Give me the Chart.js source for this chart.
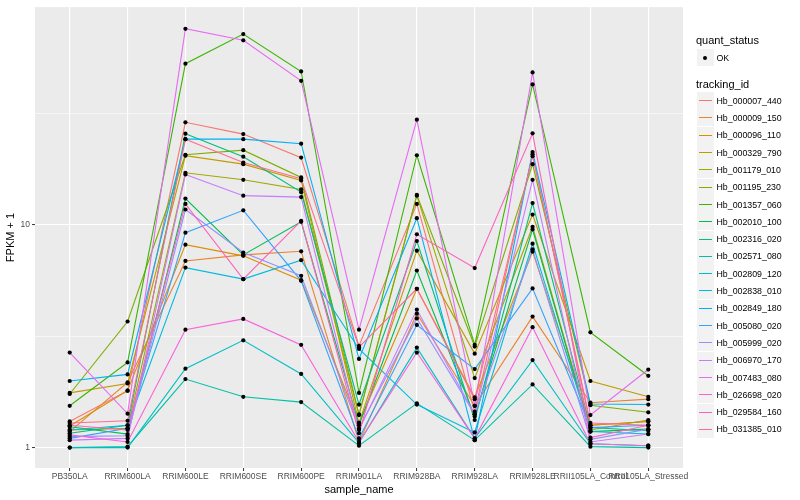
<!DOCTYPE html>
<html>
<head>
<meta charset="utf-8">
<script src="https://cdn.jsdelivr.net/npm/chart.js@4.4.1/dist/chart.umd.min.js"></script>
<style>
  body { margin: 0; background: #FFFFFF; }
  #wrap { position: relative; width: 800px; height: 500px; font-family: 'Liberation Sans', Arial, sans-serif; }
  #legend .title { position: absolute; font-size: 11px; color: #000; line-height: 12px; white-space: nowrap; }
  #legend .key { position: absolute; width: 17px; height: 17px; background: #F2F2F2; }
  #legend .lbl { position: absolute; font-size: 8.8px; color: #000; line-height: 10px; white-space: nowrap; }
</style>
</head>
<body>
<div id="wrap">
  <canvas id="fpkmChart" width="800" height="500"></canvas>
  <div id="legend"></div>
</div>
<script>
// --- dati (FPKM + 1, scala log10) ---
const samples = ["PB350LA", "RRIM600LA", "RRIM600LE", "RRIM600SE", "RRIM600PE", "RRIM901LA",
  "RRIM928BA", "RRIM928LA", "RRIM928LE", "RRII105LA_Control", "RRII105LA_Stressed"];

const trackingIds = ["Hb_000007_440", "Hb_000009_150", "Hb_000096_110", "Hb_000329_790", "Hb_001179_010",
  "Hb_001195_230", "Hb_001357_060", "Hb_002010_100", "Hb_002316_020", "Hb_002571_080",
  "Hb_002809_120", "Hb_002838_010", "Hb_002849_180", "Hb_005080_020", "Hb_005999_020",
  "Hb_006970_170", "Hb_007483_080", "Hb_026698_020", "Hb_029584_160", "Hb_031385_010"];

const Hb_000007_440 = [1.31, 1.80, 28.8, 25.5, 20.0, 2.86, 12.4, 1.45, 20.7, 1.26, 1.31];
const Hb_000009_150 = [1.18, 1.96, 6.88, 7.32, 7.60, 1.06, 3.99, 1.54, 3.87, 1.59, 1.65];
const Hb_000096_110 = [1.25, 1.80, 8.14, 7.25, 5.64, 1.29, 5.16, 1.68, 7.57, 1.26, 1.31];
const Hb_000329_790 = [1.76, 1.94, 20.4, 18.7, 15.8, 1.29, 7.65, 2.64, 11.1, 1.99, 1.69];
const Hb_001179_010 = [1.20, 1.22, 17.1, 15.9, 14.4, 1.40, 13.5, 2.05, 9.79, 1.20, 1.33];
const Hb_001195_230 = [1.74, 3.68, 20.6, 21.6, 16.3, 1.41, 13.6, 2.84, 18.7, 1.55, 1.44];
const Hb_001357_060 = [1.54, 2.41, 52.8, 71.7, 48.7, 1.76, 20.5, 2.89, 42.6, 3.29, 2.10];
const Hb_002010_100 = [1.24, 1.15, 13.1, 7.32, 10.3, 1.26, 6.23, 1.38, 9.53, 1.18, 1.21];
const Hb_002316_020 = [1.16, 1.26, 25.6, 20.2, 14.0, 1.56, 8.45, 1.33, 12.5, 1.23, 1.19];
const Hb_002571_080 = [1.00, 1.01, 2.03, 1.69, 1.60, 1.02, 1.58, 1.08, 1.92, 1.01, 1.00];
const Hb_002809_120 = [1.00, 1.00, 2.26, 3.03, 2.14, 1.05, 2.81, 1.10, 2.47, 1.04, 1.02];
const Hb_002838_010 = [1.20, 1.26, 6.42, 5.70, 6.93, 2.77, 1.56, 1.17, 8.22, 1.18, 1.15];
const Hb_002849_180 = [1.99, 2.13, 24.2, 24.2, 23.1, 2.50, 10.7, 1.08, 21.2, 1.57, 1.56];
const Hb_005080_020 = [1.10, 1.22, 9.21, 11.6, 5.60, 1.10, 3.55, 2.25, 5.18, 1.23, 1.26];
const Hb_005999_020 = [1.12, 1.13, 11.7, 7.50, 5.90, 1.22, 3.80, 1.41, 7.76, 1.09, 1.21];
const Hb_006970_170 = [1.08, 1.10, 16.8, 13.5, 13.3, 1.20, 4.16, 1.41, 15.9, 1.06, 1.15];
const Hb_007483_080 = [2.67, 1.42, 75.7, 67.2, 44.2, 3.38, 29.6, 1.54, 48.2, 1.40, 2.24];
const Hb_026698_020 = [1.14, 1.06, 3.38, 3.78, 2.89, 1.06, 2.67, 1.10, 3.47, 1.04, 1.02];
const Hb_029584_160 = [1.26, 1.20, 12.4, 5.70, 10.4, 1.16, 9.06, 6.39, 25.7, 1.11, 1.26];
const Hb_031385_010 = [1.29, 1.32, 24.2, 19.0, 16.1, 2.82, 5.16, 1.65, 20.3, 1.29, 1.26];

const seriesValues = [Hb_000007_440, Hb_000009_150, Hb_000096_110, Hb_000329_790, Hb_001179_010,
  Hb_001195_230, Hb_001357_060, Hb_002010_100, Hb_002316_020, Hb_002571_080,
  Hb_002809_120, Hb_002838_010, Hb_002849_180, Hb_005080_020, Hb_005999_020,
  Hb_006970_170, Hb_007483_080, Hb_026698_020, Hb_029584_160, Hb_031385_010];

const yTickLabels = [1, 10];
const yMinorBreaks = [3.1623, 31.623];

// palette hue di ggplot2 per 20 gruppi
const hueColors = ["#F8766D", "#EA8331", "#D89000", "#C09B00", "#A3A500", "#7CAE00", "#39B600",
  "#00BB4E", "#00BF7D", "#00C1A3", "#00BFC4", "#00BAE0", "#00B0F6", "#35A2FF", "#9590FF",
  "#C77CFF", "#E76BF3", "#FA62DB", "#FF62BC", "#FF6C91"];

const FONT = "'Liberation Sans', Arial, sans-serif";

const panelBg = {
  id: "panelBg",
  beforeDraw(chart) {
    const { ctx, chartArea: a } = chart;
    ctx.save();
    ctx.fillStyle = "#EBEBEB";
    ctx.fillRect(a.left, a.top, a.right - a.left, a.bottom - a.top);
    ctx.restore();
  }
};

const isMajorY = (v) => yTickLabels.some(t => Math.abs(t - v) < 1e-6);

const lineSets = seriesValues.map((vals, i) => ({
  label: trackingIds[i],
  data: vals.map((v, j) => ({ x: j, y: v })),
  borderColor: hueColors[i],
  borderWidth: 1.1,
  pointRadius: 0,
  fill: false,
  tension: 0,
  order: 20 - i
}));

// i punti neri (quant_status = OK) sopra tutte le linee
const pointSet = {
  type: "scatter",
  label: "OK",
  data: seriesValues.flatMap(vals => vals.map((v, j) => ({ x: j, y: v }))),
  pointRadius: 2.1,
  pointBackgroundColor: "#000000",
  pointBorderWidth: 0,
  showLine: false,
  order: 0
};

new Chart(document.getElementById("fpkmChart"), {
  type: "line",
  data: { datasets: [...lineSets, pointSet] },
  plugins: [panelBg],
  options: {
    responsive: false,
    animation: false,
    events: [],
    layout: { padding: { top: 5, right: 117, left: 0, bottom: 0 } },
    plugins: { legend: { display: false }, tooltip: { enabled: false } },
    scales: {
      x: {
        type: "linear",
        min: -0.6,
        max: samples.length - 1 + 0.6,
        afterBuildTicks: (scale) => { scale.ticks = samples.map((_, i) => ({ value: i })); },
        afterFit: (scale) => { scale.height = 32; },
        border: { display: false },
        grid: { color: "#FFFFFF", lineWidth: 1.1, drawTicks: true, tickLength: 3, tickColor: "#333333", tickWidth: 1 },
        ticks: {
          autoSkip: false, maxRotation: 0, minRotation: 0, padding: 1,
          color: "#4D4D4D", font: { family: FONT, size: 8.5 },
          callback: (v) => samples[v] ?? ""
        },
        title: { display: true, text: "sample_name", color: "#000000", font: { family: FONT, size: 11 }, padding: { top: 0, bottom: 3 } }
      },
      y: {
        type: "logarithmic",
        min: 0.81,
        max: 94.7,
        afterBuildTicks: (scale) => {
          scale.ticks = [...yTickLabels, ...yMinorBreaks].sort((a, b) => a - b).map(v => ({ value: v }));
        },
        afterFit: (scale) => { scale.width = 35; },
        border: { display: false },
        grid: {
          color: "#FFFFFF",
          lineWidth: (c) => (c.tick && isMajorY(c.tick.value)) ? 1.1 : 0.55,
          drawTicks: true, tickLength: 3, tickWidth: 1,
          tickColor: (c) => (c.tick && isMajorY(c.tick.value)) ? "#333333" : "rgba(0,0,0,0)"
        },
        ticks: {
          autoSkip: false, padding: 2,
          color: "#4D4D4D", font: { family: FONT, size: 8.5 },
          callback: (v) => isMajorY(v) ? String(v) : ""
        },
        title: { display: true, text: "FPKM + 1", color: "#000000", font: { family: FONT, size: 11 }, padding: { top: 4, bottom: 0 } }
      }
    }
  }
});

// --- legenda in stile ggplot (HTML, a destra del pannello) ---
const legend = document.getElementById("legend");
function add(cls, css, text) {
  const el = document.createElement("div");
  el.className = cls;
  el.style.cssText = css;
  if (text !== undefined) el.textContent = text;
  legend.appendChild(el);
  return el;
}
add("title", "left:696px;top:34px;", "quant_status");
const okKey = add("key", "left:696.5px;top:49px;");
okKey.innerHTML = '<div style="position:absolute;left:6.5px;top:6.5px;width:4px;height:4px;border-radius:2px;background:#000"></div>';
add("lbl", "left:716.5px;top:52.5px;", "OK");
add("title", "left:696px;top:78px;", "tracking_id");
trackingIds.forEach((id, i) => {
  const cy = 100.7 + i * 17.3;
  const k = add("key", "left:696.5px;top:" + (cy - 8.6) + "px;");
  k.innerHTML = '<div style="position:absolute;left:2px;top:8px;width:13px;height:1px;background:' + hueColors[i] + '"></div>';
  add("lbl", "left:716.5px;top:" + (cy - 5) + "px;", id);
});
</script>
</body>
</html>
